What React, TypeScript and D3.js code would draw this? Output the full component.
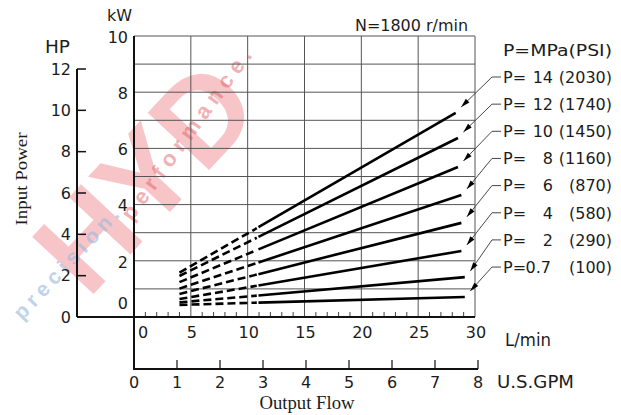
import React from "react";
import * as d3 from "d3";

// ---- data ----
const pressureMPa = ["14", "12", "10", "8", "6", "4", "2", "0.7"];
const pressurePSI = ["(2030)", "(1740)", "(1450)", "(1160)", "(870)", "(580)", "(290)", "(100)"];
const flowStart = [4, 4, 4, 4, 4, 4, 4, 4];
const kwStart = [1.58, 1.46, 1.24, 1.01, 0.82, 0.64, 0.52, 0.43];
const flowDashEnd = [10.8, 10.8, 10.8, 10.8, 10.8, 10.8, 10.8, 10.8];
const kwDashEnd = [3.16, 2.82, 2.38, 1.92, 1.51, 1.11, 0.76, 0.51];
const flowEnd = [28.3, 28.5, 28.5, 28.8, 28.8, 28.8, 29.1, 29.1];
const kwEnd = [7.26, 6.37, 5.34, 4.34, 3.35, 2.35, 1.42, 0.71];

const kwTicks = [0, 2, 4, 6, 8, 10];
const kwGrid = [0, 1, 2, 3, 4, 5, 6, 7, 8, 9, 10];
const hpTicks = [0, 2, 4, 6, 8, 10, 12];
const lpmTicks = [0, 5, 10, 15, 20, 25, 30];
const lpmMinor = d3.range(0, 31);
const gpmTicks = [0, 1, 2, 3, 4, 5, 6, 7, 8];

const W = 621, H = 415;
const FONT = "'DejaVu Sans', sans-serif";
const SERIF = "'Liberation Serif', 'Times New Roman', serif";
const INK = "#1c1c1c";

export default function App() {
  const x = d3.scaleLinear().domain([0, 30]).range([134, 475]);
  const y = d3.scaleLinear().domain([0, 10]).range([317, 36]);
  const yHP = d3.scaleLinear().domain([0, 12]).range([317, 69]);
  const xGPM = d3.scaleLinear().domain([0, 8]).range([134, 478]);
  const line = d3.line<[number, number]>().x(d => x(d[0])).y(d => y(d[1]));

  const legendX = 503;
  const legendY0 = 77;
  const legendStep = 27.15;

  return (
    <svg width={W} height={H} style={{ position: "absolute", left: 0, top: 0, background: "#fff" }}>
      {/* watermark */}
      <g pointerEvents="none">
        <text x={0} y={0} transform="translate(88,300) rotate(-47)" fontFamily="'Liberation Sans', Arial, sans-serif"
          fontWeight="bold" fontSize={122} fill="#e5303c" opacity={0.28}>HYD</text>
        <text x={0} y={0} transform="translate(132,222) rotate(-54)" fontFamily="'Liberation Sans', Arial, sans-serif"
          fontWeight="bold" fontSize={22} letterSpacing={6} fill="#e2555a" opacity={0.45}>performance.</text>
        <text x={0} y={0} transform="translate(124,212) rotate(-47)" textAnchor="end" fontFamily="'Liberation Sans', Arial, sans-serif"
          fontWeight="bold" fontSize={21} letterSpacing={5} fill="#9fbcdc" opacity={0.65}>precision.</text>
      </g>

      {/* grid */}
      {kwGrid.map(k => (
        <line key={"h" + k} x1={x(0)} x2={x(30)} y1={y(k)} y2={y(k)} stroke="#555" strokeWidth={1} />
      ))}
      {lpmTicks.map(q => (
        <line key={"v" + q} x1={x(q)} x2={x(q)} y1={y(0)} y2={y(10)} stroke="#555" strokeWidth={1} />
      ))}

      {/* L/min minor ticks */}
      {lpmMinor.filter(q => q % 5 !== 0).map(q => (
        <line key={"m" + q} x1={x(q)} x2={x(q)} y1={y(0)} y2={y(0) - 5} stroke="#444" strokeWidth={1} />
      ))}

      {/* axes */}
      <line x1={x(0)} x2={x(0)} y1={y(10)} y2={370} stroke="#111" strokeWidth={2} />
      <line x1={77} x2={x(30)} y1={y(0)} y2={y(0)} stroke="#111" strokeWidth={2} />
      <line x1={77} x2={77} y1={yHP(12)} y2={y(0)} stroke="#111" strokeWidth={2} />
      <line x1={xGPM(0)} x2={xGPM(8)} y1={369} y2={369} stroke="#111" strokeWidth={2} />

      {/* HP ticks */}
      {hpTicks.map(h => (
        <g key={"hp" + h}>
          {h > 0 && <line x1={77} x2={86} y1={yHP(h)} y2={yHP(h)} stroke="#111" strokeWidth={1.5} />}
          <text x={71} y={yHP(h)} dy="0.36em" textAnchor="end" fontFamily={FONT} fontSize={16} fill={INK}>{h}</text>
        </g>
      ))}

      {/* kW labels */}
      {kwTicks.map(k => (
        <text key={"kw" + k} x={128} y={k === 0 ? y(0) - 14 : y(k) + 1} dy="0.36em" textAnchor="end"
          fontFamily={FONT} fontSize={16} fill={INK}>{k}</text>
      ))}

      {/* L/min labels */}
      {lpmTicks.map(q => (
        <text key={"lq" + q} x={q === 0 ? x(0) + 9 : x(q) + 1} y={332} dy="0.36em" textAnchor="middle"
          fontFamily={FONT} fontSize={16} fill={INK}>{q}</text>
      ))}

      {/* GPM ticks and labels */}
      {gpmTicks.map(g => (
        <g key={"g" + g}>
          {g > 0 && <line x1={xGPM(g)} x2={xGPM(g)} y1={369} y2={360} stroke="#111" strokeWidth={1.2} />}
          <text x={xGPM(g)} y={382} dy="0.36em" textAnchor="middle" fontFamily={FONT} fontSize={16} fill={INK}>{g}</text>
        </g>
      ))}

      {/* unit labels */}
      <text x={107} y={21} fontFamily={FONT} fontSize={16} fill={INK}>kW</text>
      <text x={45} y={53} fontFamily={FONT} fontSize={17} textLength={25} lengthAdjust="spacingAndGlyphs" fill={INK}>HP</text>
      <text x={355} y={31} fontFamily={FONT} fontSize={16} textLength={113} lengthAdjust="spacingAndGlyphs" fill={INK}>N=1800 r/min</text>
      <text x={505} y={340} dy="0.36em" fontFamily={FONT} fontSize={17} textLength={46} lengthAdjust="spacingAndGlyphs" fill={INK}>L/min</text>
      <text x={497} y={382} dy="0.36em" fontFamily={FONT} fontSize={18} textLength={77} lengthAdjust="spacingAndGlyphs" fill={INK}>U.S.GPM</text>
      <text x={0} y={0} transform="translate(27,179) rotate(-90)" textAnchor="middle" fontFamily={SERIF}
        fontSize={17} textLength={93} lengthAdjust="spacingAndGlyphs" fill={INK}>Input Power</text>
      <text x={307} y={409} textAnchor="middle" fontFamily={SERIF} fontSize={18} textLength={95} lengthAdjust="spacingAndGlyphs" fill={INK}>Output Flow</text>

      {/* series */}
      {pressureMPa.map((p, i) => (
        <g key={"s" + p}>
          <path d={line([[flowStart[i], kwStart[i]], [flowDashEnd[i], kwDashEnd[i]]]) || ""} fill="none"
            stroke="#000" strokeWidth={2.6} strokeDasharray="8 4" />
          <path d={line([[flowDashEnd[i] + 0.15, kwDashEnd[i] + (kwEnd[i] - kwStart[i]) / (flowEnd[i] - flowStart[i]) * 0.15], [flowEnd[i], kwEnd[i]]]) || ""}
            fill="none" stroke="#000" strokeWidth={2.6} />
        </g>
      ))}

      {/* legend */}
      <text x={legendX} y={legendY0 - legendStep} dy="0.36em" fontFamily={FONT} fontSize={16.5} textLength={109} lengthAdjust="spacingAndGlyphs" fill={INK}>P=MPa(PSI)</text>
      {pressureMPa.map((p, i) => {
        const ly = legendY0 + i * legendStep;
        const tx = x(flowEnd[i]) + 5.5;
        const ty = y(kwEnd[i]) - 6;
        const ex = 492;
        const ang = Math.atan2(ly - ty, ex - tx);
        const L = 9, hw = 2.6;
        const bx = tx + Math.cos(ang) * L, by = ty + Math.sin(ang) * L;
        const px = -Math.sin(ang) * hw, py = Math.cos(ang) * hw;
        return (
          <g key={"l" + p}>
            <polyline points={`${legendX - 2},${ly} ${ex},${ly} ${tx},${ty}`} fill="none" stroke="#333" strokeWidth={0.9} />
            <path d={`M${tx},${ty}L${bx + px},${by + py}L${bx - px},${by - py}Z`} fill="#000" />
            <text x={legendX} y={ly} dy="0.36em" fontFamily={FONT} fontSize={16} fill={INK}>P=</text>
            <text x={p === "0.7" ? 551 : 553} y={ly} dy="0.36em" textAnchor="end" fontFamily={FONT} fontSize={16} fill={INK}>{p}</text>
            <text x={612} y={ly} dy="0.36em" textAnchor="end" fontFamily={FONT} fontSize={16} fill={INK}>{pressurePSI[i]}</text>
          </g>
        );
      })}
    </svg>
  );
}
